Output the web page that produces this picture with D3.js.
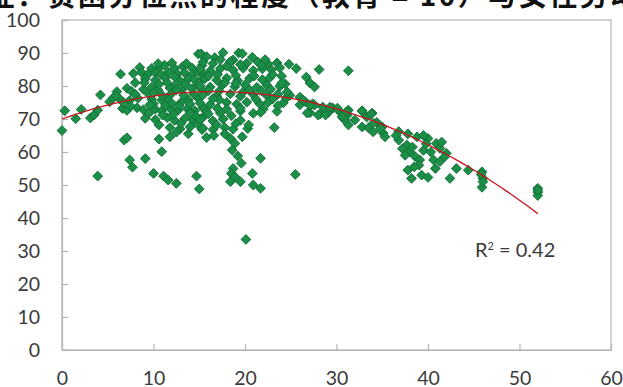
<!DOCTYPE html>
<html>
<head>
<meta charset="utf-8">
<script src="https://cdn.jsdelivr.net/npm/d3@7/dist/d3.min.js"></script>
<style>
  html, body { margin: 0; padding: 0; background: #fff; }
  svg { display: block; }
</style>
</head>
<body>
<svg id="chart" width="623" height="387"></svg>
<script>
// Title (the top of the line sits above the page edge)
const titleText = "特征：贫困分位点的程度（教育 = 10）与女性劳动参与率";

// Axis ticks
const xTicks = [0, 10, 20, 30, 40, 50, 60];
const yTicks = [0, 10, 20, 30, 40, 50, 60, 70, 80, 90, 100];

// Quadratic trend: y = c0 + c1*x + c2*x^2, drawn over this x range
const trendCoef = [70, 0.993, -0.0297];
const trendRange = [0, 52];
const rSquared = 0.42;

// Scatter observations, [x, y]
const sparsePoints = [
  [0,66.5],[0.3,72.5],[1.5,70.1],[2.1,72.9],[3.1,70.3],[3.5,71.2],[3.9,72.7],[4.2,77.3],[3.9,52.7],
  [5.2,75.2],[6.4,83.6],[6.0,78.3],[6.8,63.6],[7.1,64.3],[7.4,57.6],[7.7,55.4],[9.1,58.0],[10.0,53.5],
  [11.1,52.7],[11.6,51.5],[12.5,50.5],[10.6,63.9],[11.8,64.6],[10.9,60.1],[14.7,52.7],[15.0,48.8],
  [14.9,89.7],[15.2,89.7],
  [18.7,55.0],[18.5,53.5],[18.9,52.5],[18.4,51.0],[19.5,51.0],[20.8,53.5],[20.9,50.0],[21.7,49.0],
  [21.7,58.1],[19.6,56.6],[25.5,53.2],[20.1,33.5]
];

const bandEarly = [
  [8.5,85.6],[9.8,85.3],[10.7,85.8],[12.3,85.4],[13.2,85.9],[14.2,85.5],[15.3,86.2],
  [7.8,83.8],[8.7,84.1],[9.4,83.6],[10.2,84.0],[10.8,83.5],[11.6,84.2],[12.6,83.7],[13.4,84.0],[14.2,83.4],[14.9,84.3],[15.4,83.6],
  [9.1,82.2],[10.2,81.8],[11.3,82.4],[12.9,81.6],[13.8,82.1],[14.5,81.9],[15.4,82.3],
  [7.1,79.3],[8.9,79.0],[9.8,79.6],[10.5,78.8],[11.8,79.4],[13.1,78.9],[14.2,79.2],[15.3,78.7],
  [5.6,76.4],[6.3,76.1],[7.4,75.6],[8.3,76.3],[9.8,76.0],[10.9,75.7],[11.5,76.4],[13.8,75.8],[14.9,76.2],
  [6.6,73.2],[7.1,72.6],[8.2,73.4],[8.9,72.8],[10.2,73.0],[10.9,72.4],[11.8,73.3],[12.7,72.7],[13.7,73.1],[14.5,72.5],[15.4,73.4],
  [9.1,70.2],[10.2,69.8],[11.5,70.4],[12.3,69.6],[13.4,70.1],[14.3,69.7],[15.3,70.3],
  [11.8,67.4],[12.9,67.0],[14.0,67.6],[15.3,66.8],
  [7.6,78.4],[6.7,75.0],[5.9,77.0],
  [9.5,77.5],[10.6,80.5],[12.0,77.8],[12.5,80.6],[13.0,75.0],[12.2,71.5],[13.0,68.6],[14.6,71.0],
  [11.0,71.2],[12.0,74.8],[14.4,77.6],[10.0,74.6],[13.6,86.8],[11.2,86.3],
  [9.0,81.0],[10.0,78.0],[11.0,77.0],[11.5,81.0],[12.3,82.8],[13.5,80.5],[14.8,80.5],[13.3,77.2],
  [12.8,74.0],[11.3,74.0],[9.5,71.8],[10.6,68.2],[12.5,66.0],[13.8,65.5],[14.8,68.5],[14.0,74.5],
  [10.5,86.8],[12.0,87.0],[8.0,81.0],[8.0,77.5],[7.5,73.9],[9.6,74.3],[14.0,71.8],[12.5,78.8]
];

const bandPeak = [
  [17.6,90.1],[19.3,90.0],[19.7,89.8],[16.7,88.6],[18.7,87.9],[15.8,88.9],
  [15.4,87.2],[16.5,86.8],[18.4,87.4],[20.2,86.9],[21.4,87.3],[22.5,86.7],[23.5,87.0],
  [15.1,85.1],[16.2,84.6],[17.3,85.3],[18.7,84.8],[19.8,85.4],[20.9,84.7],[21.9,85.2],[22.9,84.9],[23.8,85.5],
  [15.6,82.2],[16.9,81.8],[18.0,82.4],[19.2,81.7],[20.5,82.3],[21.9,81.9],[22.7,82.5],
  [15.1,80.1],[16.2,79.7],[17.5,80.3],[18.9,79.8],[20.0,80.4],[21.3,79.6],[22.4,80.2],[23.8,79.9],[24.4,80.6],
  [15.4,77.3],[16.9,77.0],[18.4,77.6],[19.5,76.9],[20.9,77.4],[22.4,77.1],[23.6,77.5],[24.9,77.2],[26.0,76.6],
  [15.1,74.8],[16.2,74.4],[18.0,75.0],[19.1,74.5],[20.2,75.1],[21.6,74.6],[24.2,74.9],[26.0,74.3],[27.4,74.6],
  [15.8,72.2],[17.3,71.8],[19.5,72.4],[20.9,71.7],[23.5,72.3],[27.1,71.9],[28.2,71.5],[29.1,72.0],
  [15.1,69.8],[16.5,69.4],[17.6,70.0],[19.5,69.6],
  [15.4,67.2],[16.5,66.8],[17.8,67.4],[18.7,66.9],[20.3,67.1],[23.2,67.4],
  [15.8,64.4],[18.4,64.1],[19.7,64.6],
  [18.6,60.6],[18.9,62.6],[20.4,68.2],
  [17.0,83.5],[19.0,83.2],[21.0,83.0],[17.2,78.5],[19.8,78.2],[21.8,78.5],[23.0,76.0],[17.0,73.2],
  [18.5,71.0],[22.0,73.0],[16.0,71.5],[19.5,86.5],[22.2,88.0],[24.8,86.6],[17.2,75.8],[22.8,79.0],
  [16.0,83.0],[17.8,81.0],[19.0,80.8],[20.5,78.8],[21.2,76.0],[22.5,75.0],[23.6,74.0],[24.5,76.4],
  [16.5,76.2],[18.0,73.0],[19.5,73.3],[21.7,72.0],[16.9,68.2],[17.8,65.5],[19.0,68.6],[16.0,78.6],
  [18.0,86.0],[20.8,88.7],[23.0,83.5],[24.0,83.0],[17.3,88.0],[21.8,86.2],[16.6,65.0],[19.2,58.8]
];

const bandTail = [
  [25.6,85.3],[28.1,85.0],[31.3,84.6],[26.7,82.7],[27.1,80.9],[27.6,79.7],[24.0,80.9],[24.6,78.2],
  [26.6,75.2],[27.6,74.2],[28.5,73.6],[29.6,73.3],[30.4,72.1],[31.2,71.2],[31.3,68.2],[28.0,71.2],[28.8,71.2],
  [26.3,75.8],[27.1,74.2],[26.8,71.8],[29.3,73.6],[30.1,73.3],[30.7,70.3],[31.3,72.7],[32.8,72.4],
  [32.0,69.7],[33.3,70.6],[33.9,71.8],[34.4,69.0],[35.0,67.6],[35.1,65.7],[32.8,67.6],[33.5,67.3],[34.0,66.1],
  [31.1,72.2],[30.9,69.7],[32.8,72.5],[33.8,71.5],[34.0,68.7],[34.8,67.2],[35.3,64.6],[36.8,66.2],
  [36.8,63.6],[37.7,62.1],[38.8,64.6],[40.0,64.1],[40.9,62.6],[41.3,61.1],[42.0,59.6],[38.0,60.1],
  [38.6,58.6],[39.1,57.6],[40.6,57.6],[41.3,57.1],[37.8,54.5],[38.2,52.0],[39.3,53.0],[40.0,52.3],
  [40.8,55.0],[42.4,52.0],[43.1,55.0],[44.4,54.5],[45.9,54.0],[46.0,52.0],[45.9,49.3],[30.6,70.7],
  [37.2,61.0],[37.5,59.0],[38.3,61.5],[39.5,60.5],[39.8,62.5],[40.3,60.0],[39.0,56.0],[38.5,55.5],
  [41.8,58.5],[36.5,65.0],[37.8,65.5],[39.5,65.0],[41.5,63.0],[45.8,53.2],[46.0,51.0],
  [52.0,49.0],[52.0,47.8],[52.0,46.8],[52.0,48.4]
];

const points = [...sparsePoints, ...bandEarly, ...bandPeak, ...bandTail];

const svg = d3.select("#chart");
const W = 623, H = 387;
const margin = { left: 62, right: 12, top: 20, bottom: 37 };

const x = d3.scaleLinear().domain([0, 60]).range([margin.left, W - margin.right]);
const y = d3.scaleLinear().domain([0, 100]).range([H - margin.bottom, margin.top]);

const axisColor = "#b4b4b4";
const labelColor = "#3a3a3a";
const labelFont = "Lato, 'Open Sans', sans-serif";

// Title
svg.append("text")
  .attr("x", -44)
  .attr("y", 6)
  .attr("font-family", "'Noto Sans CJK SC', sans-serif")
  .attr("font-size", 28)
  .attr("font-weight", "bold")
  .attr("letter-spacing", 2.5)
  .attr("fill", "#111")
  .text(titleText);

// Plot frame
svg.append("rect")
  .attr("x", x(0)).attr("y", y(100))
  .attr("width", x(60) - x(0)).attr("height", y(0) - y(100))
  .attr("fill", "none").attr("stroke", axisColor).attr("stroke-width", 1.2);

// Axes
const xAxis = d3.axisBottom(x).tickValues(xTicks).tickSizeInner(-6).tickSizeOuter(0).tickPadding(21);
const yAxis = d3.axisLeft(y).tickValues(yTicks).tickSizeInner(-6).tickSizeOuter(0).tickPadding(22);

const gx = svg.append("g").attr("transform", `translate(0,${y(0)})`).call(xAxis);
const gy = svg.append("g").attr("transform", `translate(${x(0)},0)`).call(yAxis);

[gx, gy].forEach(g => {
  g.select(".domain").attr("stroke", axisColor).attr("stroke-width", 1.2);
  g.selectAll(".tick line").attr("stroke", axisColor).attr("stroke-width", 1.2);
  g.selectAll(".tick text")
    .attr("fill", labelColor)
    .attr("font-family", labelFont)
    .attr("font-size", 19.5);
});

// Scatter markers (diamonds)
const r = 4.9;
const diamond = `M0,${-r}L${r},0L0,${r}L${-r},0Z`;
svg.append("g")
  .selectAll("path")
  .data(points)
  .join("path")
  .attr("d", diamond)
  .attr("transform", d => `translate(${x(d[0])},${y(d[1])})`)
  .attr("fill", "#1b8f48")
  .attr("stroke", "#0c6a31")
  .attr("stroke-width", 0.9);

// Polynomial trend line
const trendX = d3.range(trendRange[0], trendRange[1] + 0.001, 0.5);
const trendLine = d3.line()
  .x(v => x(v))
  .y(v => y(trendCoef[0] + trendCoef[1] * v + trendCoef[2] * v * v));
svg.append("path")
  .datum(trendX)
  .attr("d", trendLine)
  .attr("fill", "none")
  .attr("stroke", "#c8141e")
  .attr("stroke-width", 1.3);

// R-squared annotation
const rLabel = svg.append("text")
  .attr("x", 475)
  .attr("y", 257)
  .attr("font-family", labelFont)
  .attr("font-size", 20)
  .attr("fill", labelColor);
rLabel.append("tspan").text("R");
rLabel.append("tspan").attr("dy", -7).attr("font-size", 11).text("2");
rLabel.append("tspan").attr("dy", 7).text(" = " + rSquared.toFixed(2));
</script>
</body>
</html>
